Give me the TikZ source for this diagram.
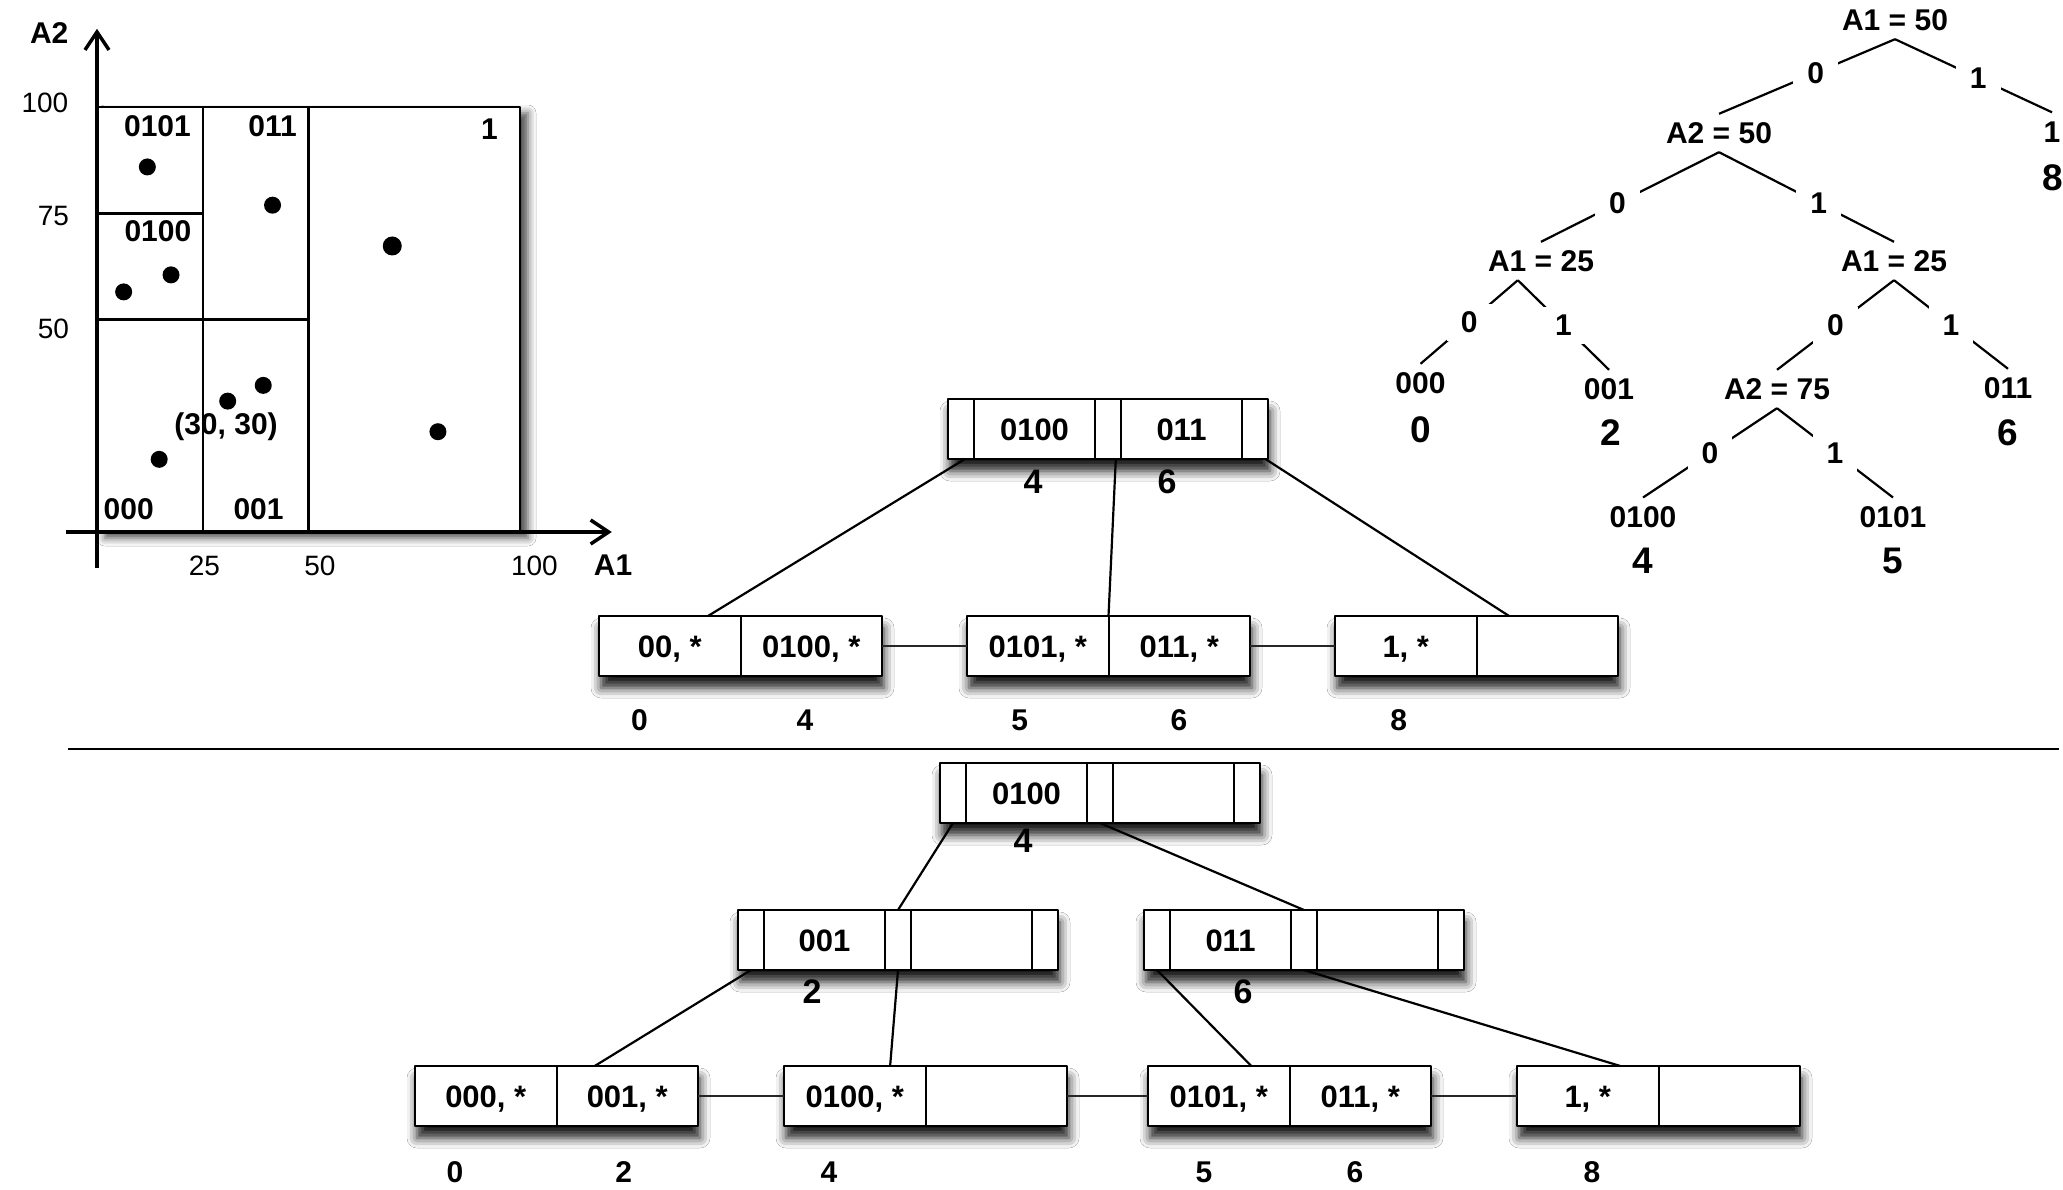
\documentclass[tikz,border=0pt]{standalone}
\usepackage{fontspec}
\setmainfont{Liberation Sans}
\usetikzlibrary{positioning,calc,arrows.meta,backgrounds,shadows.blur}

\newcommand{\fntcell}{\fontsize{31}{37}\selectfont\bfseries}
\newcommand{\fnttree}{\fontsize{30}{36}\selectfont\bfseries}
\newcommand{\fntbig}{\fontsize{37}{44}\selectfont\bfseries}
\newcommand{\fntnum}{\fontsize{30}{36}\selectfont\bfseries}
\newcommand{\fntptr}{\fontsize{34}{40}\selectfont\bfseries}
\newcommand{\fnttick}{\fontsize{28}{34}\selectfont}

\tikzset{
  cellp/.style={draw, fill=white, line width=2pt, minimum width=26pt, minimum height=60pt,
    inner sep=0pt, outer sep=0pt, font=\fntcell, text height=22pt, text depth=0pt},
  cellk/.style={cellp, minimum width=121pt},
  cellleaf/.style={cellp, minimum width=141.5pt},
  boxshadow/.style={blur shadow={shadow xshift=2pt, shadow yshift=-12pt,
    shadow blur radius=10pt, shadow opacity=90}},
  link/.style={line width=2.5pt, black!85},
  treeline/.style={line width=2.2pt},
  treelbl/.style={font=\fnttree, inner xsep=2pt, inner ysep=8.5pt, text height=21pt, text depth=0pt},
  bitlbl/.style={treelbl, fill=white, inner xsep=14pt, inner ysep=8pt},
  bignum/.style={font=\fntbig, inner sep=0pt},
  numlbl/.style={font=\fntnum, inner sep=0pt},
  ptrlbl/.style={font=\fntptr, inner sep=0pt},
  ticklbl/.style={font=\fnttick, inner sep=0pt},
  reglbl/.style={font=\fnttree, inner sep=0pt},
  region/.style={line width=2.5pt},
  axis/.style={line width=3.5pt, -{Straight Barb[length=18pt, width=24pt]}},
}

\begin{document}
\begin{tikzpicture}[x=1pt, y=-1pt, line join=round]
  \useasboundingbox (0,0) rectangle (2063,1189);

  % --- Mặt phẳng A1, A2 ---
  \begin{scope}[shift={(97,532)}, x=4.23pt, y=4.25pt]
    \coordinate (xA) at (-7.3,0);
    \coordinate (xB) at (121.7,0);
    \coordinate (yA) at (0,-8.5);
    \coordinate (yB) at (0,118.4);

    % Khung và các đường chia vùng
    \draw[region, fill=white, blur shadow={shadow xshift=8pt, shadow yshift=-6pt,
      shadow blur radius=8pt, shadow opacity=70}] (0,0) rectangle (100,100);
    \draw[region] (25,0) -- (25,100);
    \draw[region] (50,0) -- (50,100);
    \draw[region] (0,50) -- (50,50);
    \draw[region] (0,75) -- (25,75);

    % Trục tọa độ
    \draw[axis] (xA) -- (xB);
    \draw[axis] (yA) -- (yB);

    % Nhãn trục
    \node[reglbl] (lA2) at (-11.3,117.4) {A2};
    \node[reglbl] (lA1) at (122,-7.9) {A1};
    \node[ticklbl] (ty100) at (-12.3,100.9) {100};
    \node[ticklbl] (ty75) at (-10.3,74.4) {75};
    \node[ticklbl] (ty50) at (-10.3,47.8) {50};
    \node[ticklbl] (tx25) at (25.4,-7.9) {25};
    \node[ticklbl] (tx50) at (52.7,-7.9) {50};
    \node[ticklbl] (tx100) at (103.4,-7.9) {100};

    % Nhãn vùng
    \node[reglbl] (r0101) at (14.3,95.4) {0101};
    \node[reglbl] (r011) at (41.5,95.4) {011};
    \node[reglbl] (r1) at (92.8,94.7) {1};
    \node[reglbl] (r0100) at (14.4,70.9) {0100};
    \node[reglbl] (r000) at (7.5,5.4) {000};
    \node[reglbl] (r001) at (38.2,5.4) {001};
    \node[reglbl] (r3030) at (30.5,24.8) {(30, 30)};

    % Các điểm dữ liệu
    \fill (11.9,85.9) circle (8.5pt);
    \fill (41.5,76.9) circle (8.5pt);
    \fill (69.8,67.3) circle (9.5pt);
    \fill (6.3,56.5) circle (8.5pt);
    \fill (17.5,60.5) circle (8.5pt);
    \fill (30.9,30.8) circle (8.5pt);
    \fill (39.3,34.5) circle (8.5pt);
    \fill (14.7,17.1) circle (8.5pt);
    \fill (80.6,23.6) circle (8.5pt);
  \end{scope}

  % --- Cây phân hoạch ---
  \node[treelbl] (r) at (1895,20) {A1 = 50};
  \node[treelbl] (s0) at (1719,133) {A2 = 50};
  \node[treelbl] (s1) at (2052,131.5) {1};
  \node[treelbl] (s00) at (1541,261) {A1 = 25};
  \node[treelbl] (s01) at (1894,261) {A1 = 25};
  \node[treelbl] (s000) at (1420.5,383) {000};
  \node[treelbl] (s001) at (1609,389) {001};
  \node[treelbl] (s010) at (1777,389) {A2 = 75};
  \node[treelbl] (s011) at (2008,388) {011};
  \node[treelbl] (s0100) at (1643,516.7) {0100};
  \node[treelbl] (s0101) at (1893,516.7) {0101};

  \draw[treeline] (r.south) -- node[bitlbl, pos=.45] {0} (s0.north);
  \draw[treeline] (r.south) -- node[bitlbl, pos=.53] {1} (s1.north);
  \draw[treeline] (s0.south) -- node[bitlbl, pos=.57] {0} (s00.north);
  \draw[treeline] (s0.south) -- node[bitlbl, pos=.57] {1} (s01.north);
  \draw[treeline] ($(s00.south west)!.29!(s00.south east)$) -- node[bitlbl] {0} (s000.north);
  \draw[treeline] ($(s00.south west)!.29!(s00.south east)$) -- node[bitlbl] {1} (s001.north);
  \draw[treeline] (s01.south) -- node[bitlbl] {0} (s010.north);
  \draw[treeline] (s01.south) -- node[bitlbl] {1} (s011.north);
  \draw[treeline] (s010.south) -- node[bitlbl] {0} (s0100.north);
  \draw[treeline] (s010.south) -- node[bitlbl] {1} (s0101.north);

  % Số trang của lá
  \node[bignum] (b8) at (2053,178) {8};
  \node[bignum] (b0) at (1420.5,429.6) {0};
  \node[bignum] (b2) at (1611,433) {2};
  \node[bignum] (b6) at (2008,433) {6};
  \node[bignum] (b4) at (1643,561) {4};
  \node[bignum] (b5) at (1893,561) {5};

  % --- B-cây phía trên ---
  \node[cellp] (utp0) at (961,429) {};
  \node[cellk, right=0pt of utp0] (utk1) {0100};
  \node[cellp, right=0pt of utk1] (utp1) {};
  \node[cellk, right=0pt of utp1] (utk2) {011};
  \node[cellp, right=0pt of utk2] (utp2) {};

  \node[cellleaf] (ul1a) at (669.75,646) {00, *};
  \node[cellleaf, right=0pt of ul1a] (ul1b) {0100, *};
  \node[cellleaf] (ul2a) at (1037.75,646) {0101, *};
  \node[cellleaf, right=0pt of ul2a] (ul2b) {011, *};
  \node[cellleaf] (ul3a) at (1405.75,646) {1, *};
  \node[cellleaf, right=0pt of ul3a] (ul3b) {};

  \draw[treeline] ($(utp0.south west)!.65!(utp0.south east)$) -- ($(ul1a.north west)!.77!(ul1a.north east)$);
  \draw[treeline] ($(utp1.south west)!.8!(utp1.south east)$) -- (ul2a.north east);
  \draw[treeline] ($(utp2.south west)!.9!(utp2.south east)$) -- ($(ul3b.north west)!.23!(ul3b.north east)$);
  \draw[link] (ul1b.east) -- (ul2a.west);
  \draw[link] (ul2b.east) -- (ul3a.west);

  \node[ptrlbl] (un4) at (1033,482) {4};
  \node[ptrlbl] (un6) at (1167,482) {6};
  \node[numlbl] (uq0) at (639.5,720) {0};
  \node[numlbl] (uq4) at (805,720) {4};
  \node[numlbl] (uq5) at (1019.7,720) {5};
  \node[numlbl] (uq6) at (1179,720) {6};
  \node[numlbl] (uq8) at (1398.6,720) {8};

  % Đường phân cách
  \coordinate (sepL) at (68,749);
  \coordinate (sepR) at (2059,749);
  \draw[line width=2.5pt] (sepL) -- (sepR);

  % --- B-cây phía dưới ---
  \node[cellp] (ltp0) at (953,793) {};
  \node[cellk, right=0pt of ltp0] (ltk1) {0100};
  \node[cellp, right=0pt of ltk1] (ltp1) {};
  \node[cellk, right=0pt of ltp1] (ltk2) {};
  \node[cellp, right=0pt of ltk2] (ltp2) {};

  \node[cellp] (mlp0) at (751,940) {};
  \node[cellk, right=0pt of mlp0] (mlk1) {001};
  \node[cellp, right=0pt of mlk1] (mlp1) {};
  \node[cellk, right=0pt of mlp1] (mlk2) {};
  \node[cellp, right=0pt of mlk2] (mlp2) {};

  \node[cellp] (mrp0) at (1157,940) {};
  \node[cellk, right=0pt of mrp0] (mrk1) {011};
  \node[cellp, right=0pt of mrk1] (mrp1) {};
  \node[cellk, right=0pt of mrp1] (mrk2) {};
  \node[cellp, right=0pt of mrk2] (mrp2) {};

  \node[cellleaf] (ll1a) at (485.75,1096) {000, *};
  \node[cellleaf, right=0pt of ll1a] (ll1b) {001, *};
  \node[cellleaf] (ll2a) at (854.75,1096) {0100, *};
  \node[cellleaf, right=0pt of ll2a] (ll2b) {};
  \node[cellleaf] (ll3a) at (1218.75,1096) {0101, *};
  \node[cellleaf, right=0pt of ll3a] (ll3b) {011, *};
  \node[cellleaf] (ll4a) at (1587.75,1096) {1, *};
  \node[cellleaf, right=0pt of ll4a] (ll4b) {};

  \draw[treeline] (ltp0.south) -- (mlp1.north);
  \draw[treeline] (ltp1.south) -- (mrp1.north);
  \draw[treeline] (mlp0.south) -- ($(ll1b.north west)!.27!(ll1b.north east)$);
  \draw[treeline] (mlp1.south) -- ($(ll2a.north west)!.75!(ll2a.north east)$);
  \draw[treeline] (mrp0.south) -- ($(ll3a.north west)!.73!(ll3a.north east)$);
  \draw[treeline] (mrp1.south) -- ($(ll4a.north west)!.73!(ll4a.north east)$);
  \draw[link] (ll1b.east) -- (ll2a.west);
  \draw[link] (ll2b.east) -- (ll3a.west);
  \draw[link] (ll3b.east) -- (ll4a.west);

  \node[ptrlbl] (ln4) at (1023,841) {4};
  \node[ptrlbl] (ln2) at (812,992) {2};
  \node[ptrlbl] (ln6) at (1243,992) {6};
  \node[numlbl] (lq0) at (455,1172) {0};
  \node[numlbl] (lq2) at (623.6,1172) {2};
  \node[numlbl] (lq4) at (829,1172) {4};
  \node[numlbl] (lq5) at (1204,1172) {5};
  \node[numlbl] (lq6) at (1355,1172) {6};
  \node[numlbl] (lq8) at (1592,1172) {8};

  % Bóng đổ và nền
  \begin{scope}[on background layer]
    \fill[white] (0,0) rectangle (2063,1189);
    \path[boxshadow] (utp0.north west) rectangle (utp2.south east);
    \path[boxshadow] (ul1a.north west) rectangle (ul1b.south east);
    \path[boxshadow] (ul2a.north west) rectangle (ul2b.south east);
    \path[boxshadow] (ul3a.north west) rectangle (ul3b.south east);
    \path[boxshadow] (ltp0.north west) rectangle (ltp2.south east);
    \path[boxshadow] (mlp0.north west) rectangle (mlp2.south east);
    \path[boxshadow] (mrp0.north west) rectangle (mrp2.south east);
    \path[boxshadow] (ll1a.north west) rectangle (ll1b.south east);
    \path[boxshadow] (ll2a.north west) rectangle (ll2b.south east);
    \path[boxshadow] (ll3a.north west) rectangle (ll3b.south east);
    \path[boxshadow] (ll4a.north west) rectangle (ll4b.south east);
  \end{scope}
\end{tikzpicture}
\end{document}
